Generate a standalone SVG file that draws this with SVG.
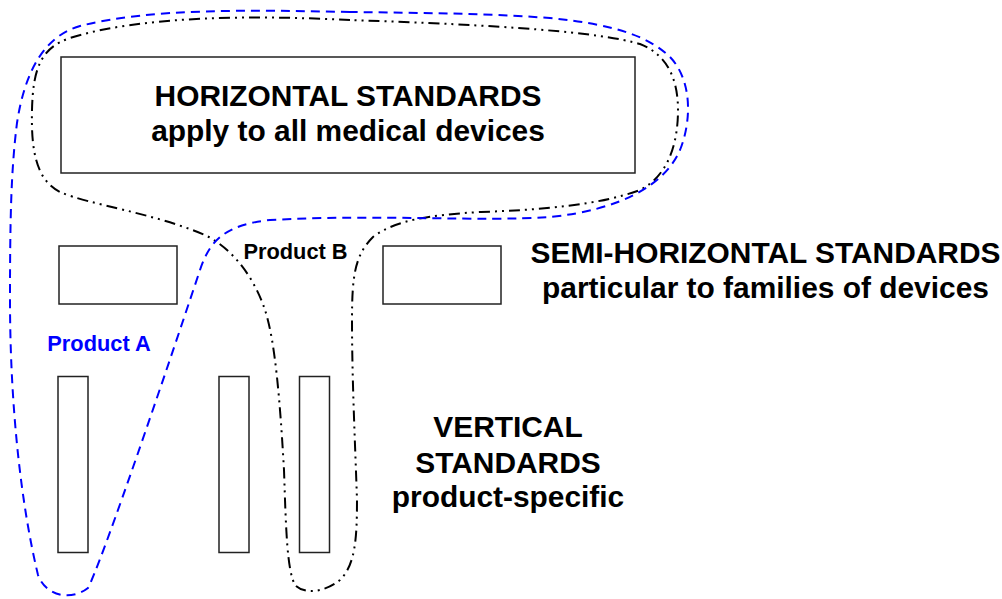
<svg xmlns="http://www.w3.org/2000/svg" width="1002" height="599" viewBox="0 0 1002 599">
<style>
.box{fill:none;stroke:#222;stroke-width:1.5}
.t{font-family:"Liberation Sans",Arial,sans-serif;font-weight:bold;fill:#000}
.big{font-size:29.9px}
.prod{font-size:21.8px}
.blue{fill:#0000ff}
.loopA{fill:none;stroke:#0000ff;stroke-width:2;stroke-dasharray:9,6}
.loopB{fill:none;stroke:#000;stroke-width:2;stroke-dasharray:11,5,2,5,2,5}
</style>
<rect width="1002" height="599" fill="#fff"/>
<g id="connectors">
<path id="productB-loop" class="loopB" d="M 350,20 C 250,15 140,16 70,38 C 40,48 33,70 32,110 C 31,150 36,180 60,192 C 90,205 150,212 205,235 C 235,250 255,280 265,310 C 275,340 280,400 284,470 C 286,530 287,570 295,585 C 305,595 325,592 340,580 C 355,565 357,540 357,500 C 355,440 352,380 352,320 C 352,275 355,255 373,237 C 395,220 430,215 480,212 C 540,210 600,205 640,190 C 670,175 678,140 678,110 C 678,80 668,55 640,44 C 600,32 500,25 350,20 Z"/>
<path id="productA-loop" class="loopA" d="M 350,12 C 250,10 150,8 80,26 C 45,36 25,70 17,123 C 11,170 10,220 10,300 C 10,400 20,500 38,575 C 45,595 70,602 88,588 C 100,565 150,420 200,270 C 210,240 225,225 270,220 C 380,214 480,222 550,217 C 620,210 665,185 680,150 C 692,120 692,80 670,57 C 650,38 620,25 550,18 C 480,13 420,13 350,12 Z"/>
</g>
<g id="horizontal">
<rect class="box" x="61" y="57" width="574" height="116"/>
<text class="t big" x="348" y="106" text-anchor="middle">HORIZONTAL STANDARDS</text>
<text class="t big" x="348" y="141" text-anchor="middle">apply to all medical devices</text>
</g>
<g id="semi-left"><rect class="box" x="59" y="246" width="118" height="58"/></g>
<g id="semi-right"><rect class="box" x="383" y="246" width="118" height="58"/></g>
<g id="vert-1"><rect class="box" x="58" y="376.5" width="30" height="176"/></g>
<g id="vert-2"><rect class="box" x="219" y="376.5" width="30" height="176"/></g>
<g id="vert-3"><rect class="box" x="299.5" y="376.5" width="30" height="176"/></g>
<g id="semi-label">
<text class="t big" x="765.5" y="263" text-anchor="middle">SEMI-HORIZONTAL STANDARDS</text>
<text class="t big" x="765.5" y="298" text-anchor="middle">particular to families of devices</text>
</g>
<g id="vertical-label">
<text class="t big" x="508" y="437" text-anchor="middle">VERTICAL</text>
<text class="t big" x="508" y="472.5" text-anchor="middle">STANDARDS</text>
<text class="t big" x="508" y="507" text-anchor="middle">product-specific</text>
</g>
<g id="product-b"><text class="t prod" x="295.5" y="259" text-anchor="middle">Product B</text></g>
<g id="product-a"><text class="t prod blue" x="99" y="351" text-anchor="middle">Product A</text></g>
</svg>
